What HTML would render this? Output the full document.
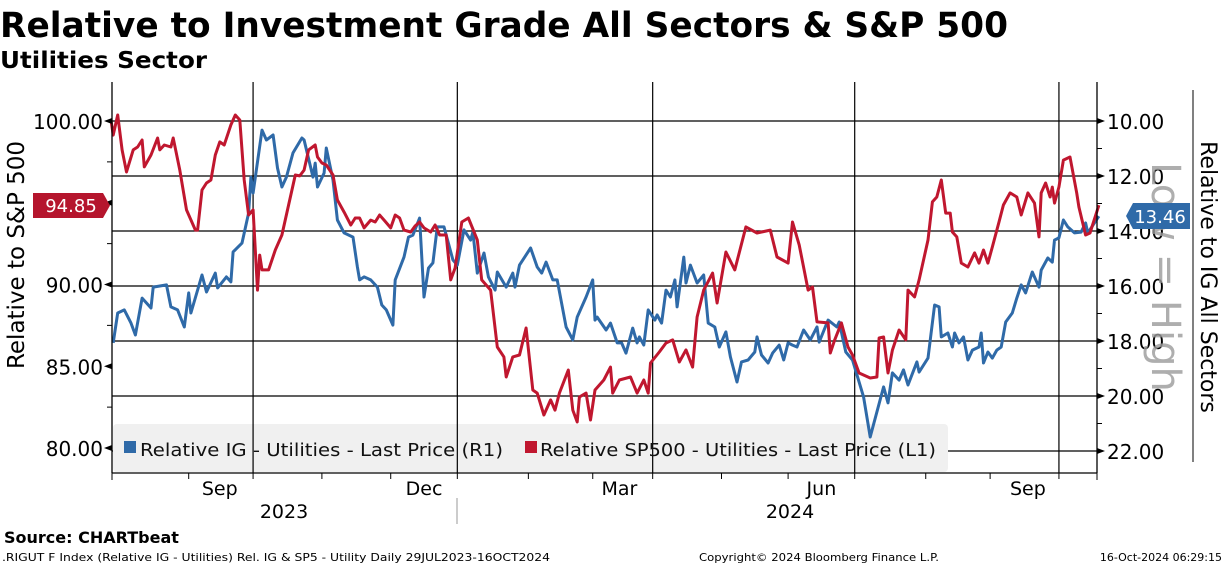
<!DOCTYPE html>
<html><head><meta charset="utf-8"><style>
html,body{margin:0;padding:0;background:#fff;width:1224px;height:566px;overflow:hidden}
svg{display:block;font-family:"DejaVu Sans","Liberation Sans",sans-serif}
</style></head><body>
<svg id="chart" width="1224" height="566" viewBox="0 0 1224 566">
<text x="0" y="37" font-size="35" font-weight="bold" textLength="1008" lengthAdjust="spacingAndGlyphs">Relative to Investment Grade All Sectors &amp; S&amp;P 500</text>
<text x="0" y="68" font-size="23" font-weight="bold" textLength="207" lengthAdjust="spacingAndGlyphs">Utilities Sector</text>
<g id="grid"></g>
<rect x="113" y="424" width="835" height="48" rx="4" fill="#f0f0f0"/>
<g id="vgrid"></g>
<g id="series"></g>
<g>
<rect x="124" y="441" width="12" height="12" fill="#2f6aa8"/>
<text x="140" y="456" font-size="18" fill="#111" textLength="363" lengthAdjust="spacingAndGlyphs">Relative IG - Utilities - Last Price (R1)</text>
<rect x="525" y="441" width="12" height="12" fill="#c0172f"/>
<text x="540" y="456" font-size="18" fill="#111" textLength="396" lengthAdjust="spacingAndGlyphs">Relative SP500 - Utilities - Last Price (L1)</text>
</g>
<g id="axes"></g>
<text transform="translate(24,255) rotate(-90)" text-anchor="middle" font-size="23">Relative to S&amp;P 500</text>
<text transform="translate(1201,277) rotate(90)" text-anchor="middle" font-size="22">Relative to IG All Sectors</text>
<line x1="1193" y1="90" x2="1193" y2="462" stroke="#000" stroke-width="1"/>
<text transform="translate(1152,277) rotate(90)" text-anchor="middle" font-size="40" fill="#9a9a9a" opacity="0.8">Low = High</text>
<g>
<polygon points="33,193 103,193 110,205.5 103,218 33,218" fill="#b5152d"/>
<text x="71" y="212" font-size="18" fill="#fff" text-anchor="middle">94.85</text>
</g>
<g>
<polygon points="1133,203 1190,203 1190,229 1133,229 1126,216" fill="#2f6aa8"/>
<text x="1160" y="223" font-size="18" fill="#fff" text-anchor="middle">13.46</text>
</g>
<text x="284" y="518" font-size="19" text-anchor="middle">2023</text>
<text x="790" y="518" font-size="19" text-anchor="middle">2024</text>
<line x1="457" y1="498" x2="457" y2="524" stroke="#999"/>
<text x="4" y="543" font-size="16" font-weight="bold">Source: CHARTbeat</text>
<text x="2" y="561" font-size="11" textLength="548" lengthAdjust="spacingAndGlyphs">.RIGUT F Index (Relative IG - Utilities) Rel. IG &amp; SP5 - Utility  Daily 29JUL2023-16OCT2024</text>
<text x="699" y="561" font-size="11" textLength="240" lengthAdjust="spacingAndGlyphs">Copyright© 2024 Bloomberg Finance L.P.</text>
<text x="1222" y="561" font-size="11" text-anchor="end">16-Oct-2024 06:29:15</text>
</svg>
<script>
const redDays=[0,1,3,5,7,10,12,14,15,18,21,22,24,27,28,31,34,38,39,41,43,45,47,49,51,54,56,58,60,62,64,66,67,68,71,74,77,80,83,85,87,89,92,93,95,97,100,102,105,108,110,112,114,117,119,121,123,126,128,130,132,135,137,139,141,144,146,148,151,153,155,158,161,165,167,171,174,177,178,181,184,187,190,192,195,198,200,202,206,208,210,211,214,216,218,222,225,226,229,234,237,240,242,243,247,250,253,256,259,262,264,267,271,273,277,281,286,291,297,300,305,307,310,314,316,318,323,324,326,329,332,334,337,342,345,346,348,350,352,355,358,359,362,364,368,370,372,374,376,378,379,381,383,386,389,391,393,395,397,400,402,405,408,410,413,416,418,419,421,423,424,425,427,429,432,435,436,439,441,445];
const redVals=[100.06,99.14,100.37,98.23,96.88,98.23,98.41,98.84,97.19,97.92,98.96,98.23,98.53,98.41,98.96,97.00,94.56,93.33,93.33,95.78,96.21,96.39,97.92,98.72,98.53,99.76,100.37,100.06,96.39,94.25,94.56,89.66,91.80,90.89,90.89,92.11,93.03,94.86,96.70,96.64,97.00,98.23,98.53,97.80,97.43,97.31,96.70,95.17,94.43,93.64,94.07,94.07,93.46,93.94,93.82,94.25,93.94,93.46,94.25,94.07,93.33,93.21,93.58,93.82,93.46,93.21,93.64,93.03,93.03,90.28,91.01,93.82,94.07,92.72,90.28,89.66,86.18,85.57,84.34,85.57,85.69,87.34,83.55,83.36,82.02,82.94,82.32,83.36,84.77,82.32,81.59,83.12,83.36,81.71,83.55,84.16,84.95,83.36,84.16,84.34,83.36,84.16,83.36,85.20,85.87,86.42,86.61,85.26,86.00,84.95,88.01,89.66,90.70,88.87,91.99,90.89,93.52,93.15,93.33,91.68,91.31,93.82,92.42,89.66,89.85,87.71,87.65,85.81,86.61,87.65,86.18,85.69,84.59,84.28,84.34,86.73,86.79,84.59,85.99,87.22,86.61,89.66,89.24,90.28,92.72,95.05,95.35,96.39,94.37,94.37,93.21,92.91,91.31,91.07,91.93,91.31,92.11,91.31,92.29,93.82,94.86,95.60,95.35,94.25,95.60,94.98,92.91,95.60,96.21,95.35,95.96,94.98,95.96,97.61,97.80,95.60,94.74,93.03,93.15,94.85];
const blueDays=[1,3,6,9,11,14,18,19,25,27,30,33,35,36,41,43,47,48,52,54,55,59,62,63,64,68,70,73,75,77,79,82,86,87,91,92,93,96,97,100,102,105,109,111,112,114,117,120,122,124,127,128,132,134,136,139,141,143,145,147,150,154,156,159,162,163,165,168,170,173,174,178,181,182,184,189,192,194,196,199,201,205,208,210,214,217,218,219,223,225,228,230,232,235,237,238,240,242,245,246,248,250,252,254,255,258,259,261,264,267,269,272,274,277,279,282,284,287,290,291,293,296,298,301,303,305,307,309,312,315,318,319,323,327,328,331,334,339,342,348,350,352,355,357,359,363,364,368,371,373,374,377,379,380,382,384,386,388,391,392,393,395,397,399,401,403,406,408,410,412,415,418,419,422,424,425,427,429,431,434,437,439,440,445];
const blueVals=[18.07,16.98,16.87,17.35,17.78,16.44,16.80,16.04,15.96,16.76,16.87,17.49,16.25,16.98,15.60,16.22,15.53,16.07,15.67,15.85,14.76,14.44,13.35,12.04,12.62,10.33,10.69,10.51,11.71,12.40,12.04,11.16,10.62,10.69,12.04,11.53,12.40,11.89,10.98,12.15,13.60,14.07,14.22,15.31,15.78,15.67,15.78,16.04,16.69,16.87,17.42,15.78,14.95,14.22,14.15,13.53,16.40,15.35,15.16,13.85,13.85,15.05,15.24,13.96,14.33,14.04,15.53,14.80,15.67,16.15,15.49,16.04,15.53,16.04,15.24,14.62,15.31,15.53,15.13,15.78,15.78,17.49,17.96,17.13,16.40,15.78,17.24,17.13,17.60,17.35,18.07,18.07,18.44,17.53,18.07,17.85,18.15,16.87,17.24,17.05,17.35,16.15,16.40,15.78,16.76,14.95,15.89,15.24,15.89,15.60,17.35,17.49,18.22,17.67,18.58,19.49,18.76,18.69,18.40,17.85,18.51,18.80,18.44,18.15,18.69,18.07,18.15,18.22,17.60,17.96,17.49,18.04,17.24,17.49,17.31,18.40,18.69,20.04,21.49,19.67,20.25,19.16,19.42,19.05,19.60,18.76,19.13,18.62,16.69,16.76,17.85,17.71,18.22,17.71,18.07,17.85,18.69,18.33,18.22,17.71,18.80,18.40,18.62,18.33,18.22,17.31,16.98,16.44,15.96,16.25,15.49,16.04,15.42,14.98,15.13,14.33,14.25,13.60,13.85,14.07,14.04,13.71,14.07,13.46];
const leftTicks=["80.00","85.00","90.00","95.00","100.00"];
const rightTicks=["10.00","12.00","14.00","16.00","18.00","20.00","22.00"];
const monthTickDays=[35,64,95,126,156,188,217,244,275,305,335,367,396,427];
const monthLabels=["Sep","Dec","Mar","Jun","Sep"];
const monthLabelDays=[49,141,229,320,413];
const quarterDays=[64,156,244,335,427];

const X0=111,PX_PER_DAY=2.22;
const xS=d=>X0+d*PX_PER_DAY;
const yL=v=>121+(100-v)*16.35;
const yR=v=>121+(v-10)*27.5;
const NS="http://www.w3.org/2000/svg";
function mk(tag,attrs,parent){const e=document.createElementNS(NS,tag);for(const k in attrs)e.setAttribute(k,attrs[k]);parent.appendChild(e);return e;}
const grid=document.getElementById('grid'),vgrid=document.getElementById('vgrid'),axes=document.getElementById('axes'),series=document.getElementById('series');
const L=112,R=1097,T=82,B=473;
rightTicks.forEach(t=>{const y=yR(parseFloat(t));
 const g=mk('line',{x1:L,x2:R,y1:y,y2:y,stroke:'#000','stroke-width':1.2},grid);
 
 
 const p=mk('polygon',{points:`${R},${y-3} ${R+8},${y} ${R},${y+3}`,fill:'#000'},axes);
 
 
 const tx=mk('text',{x:R+10,y:y+8,'font-size':20},axes);tx.textContent=t;
 
 
});
for(let v=11;v<=21;v+=2){const y=yR(v);mk('line',{x1:R,x2:R+5,y1:y,y2:y,stroke:'#000'},axes);}
quarterDays.forEach(d=>{const x=xS(d);
 const l=mk('line',{x1:x,x2:x,y1:T,y2:B,stroke:'#000','stroke-width':1.2},vgrid);
 
 
});
leftTicks.forEach(t=>{const y=yL(parseFloat(t));
 const p=mk('polygon',{points:`${L},${y-3} ${L-8},${y} ${L},${y+3}`,fill:'#000'},axes);
 
 
 const tx=mk('text',{x:L-9,y:y+8,'font-size':20,'text-anchor':'end'},axes);tx.textContent=t;
 
 
});
for(let v=82.5;v<=100;v+=5){const y=yL(v);mk('line',{x1:L-5,x2:L,y1:y,y2:y,stroke:'#000'},axes);}
mk('line',{x1:L,x2:L,y1:T,y2:B,stroke:'#000','stroke-width':1.3},axes);
mk('line',{x1:R,x2:R,y1:T,y2:B,stroke:'#000','stroke-width':1.3},axes);
mk('line',{x1:L,x2:R,y1:B,y2:B,stroke:'#000','stroke-width':1.3},axes);
mk('line',{x1:L,x2:L,y1:B,y2:B+7,stroke:'#000'},axes);
mk('line',{x1:R,x2:R,y1:B,y2:B+7,stroke:'#000'},axes);
monthTickDays.forEach(d=>{const x=xS(d);mk('line',{x1:x,x2:x,y1:B,y2:B+6,stroke:'#000'},axes);});
monthLabels.forEach((m,i)=>{const tx=mk('text',{x:xS(monthLabelDays[i]),y:B+22,'font-size':19,'text-anchor':'middle'},axes);tx.textContent=m;
 
 
});
function path(days,vals,ys){return days.map((d,i)=>(i?'L':'M')+xS(d).toFixed(1)+','+ys(vals[i]).toFixed(1)).join(' ');}
const blue=mk('path',{d:path(blueDays,blueVals,yR),fill:'none',stroke:'#2f6aa8','stroke-width':3,'stroke-linejoin':'round'},series);


const red=mk('path',{d:path(redDays,redVals,yL),fill:'none',stroke:'#c0172f','stroke-width':3,'stroke-linejoin':'round'},series);


</script>
</body></html>
